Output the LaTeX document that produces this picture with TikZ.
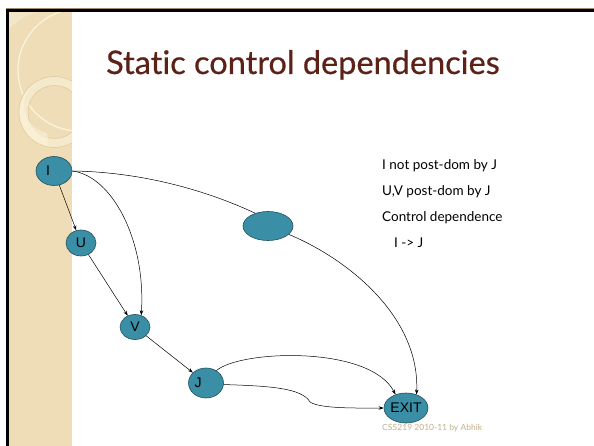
\documentclass[tikz,border=0pt]{standalone}
\usepackage{fontspec}
\setmainfont[Ligatures={NoCommon,NoRare}]{Lato}
\newfontfamily\titlefont[Ligatures={NoCommon,NoRare},FakeBold=0.5]{Lato}
\newfontfamily\labelfont{Liberation Sans}
\usetikzlibrary{arrows.meta,shapes.geometric}

\definecolor{titlebrown}{HTML}{5C2218}
\definecolor{stripbeige}{HTML}{EEDDB6}
\definecolor{striplight}{HTML}{F3E6C8}
\definecolor{stripcream}{HTML}{FBF3DC}
\definecolor{ringband}{HTML}{F5E9CB}
\definecolor{ringtan}{HTML}{E0CA9A}
\definecolor{frametan}{HTML}{A08C6A}
\definecolor{nodeteal}{HTML}{3A8EA5}
\definecolor{nodeedge}{HTML}{22505E}
\definecolor{footertan}{HTML}{C4B088}

\tikzset{
  cfgnode/.style={ellipse, draw=nodeedge, line width=0.6pt, fill=nodeteal,
    inner sep=0pt, font=\labelfont\fontsize{14}{14}\selectfont, text=black},
  flow/.style={draw=black, line width=0.5pt, -{Stealth[length=5pt,width=3.5pt]}},
  plainflow/.style={draw=black, line width=0.5pt},
  notetext/.style={anchor=base west, inner sep=0pt, font=\fontsize{13.5}{13.5}\selectfont, text=black},
}

\begin{document}
\begin{tikzpicture}[x=1pt,y=-1pt]
\useasboundingbox (0,0) rectangle (594,446);
\fill[white] (0,0) rectangle (594,446);

% decorated side strip
\fill[stripbeige] (9,12) rectangle (72,446);
\begin{scope}
  \clip (9,12) rectangle (72,446);
  \fill[striplight] (9,12) -- (58,12) arc[start angle=-80, end angle=-165, radius=53] -- cycle;
  \draw[stripcream, line width=1.3pt] (79,70) circle (61);
  \fill[ringband, even odd rule] (54.5,112) circle (35.5) (54.5,112) circle (26.5);
  \draw[ringtan, line width=0.6pt] (54.5,112) circle (35.5) (54.5,112) circle (26.5);
  \fill[stripcream, opacity=0.6] (54.5,112) ++(100:35) arc[start angle=100, end angle=250, radius=35]
        -- ++(0,0) arc[start angle=250, end angle=100, radius=28] -- cycle;
\end{scope}

% slide frame
\draw[frametan, line width=1pt] (6,8.5) -- (594,8.5);
\draw[black, line width=3pt] (6,10.5) -- (594,10.5);
\draw[black, line width=3pt] (7.5,9) -- (7.5,446);

% title
\node[anchor=base west, inner sep=0pt, text=titlebrown,
      font=\titlefont\fontsize{32.5}{32.5}\selectfont] (title) at (106,74) {Static control dependencies};

% flow graph nodes
\node[cfgnode, minimum width=36pt, minimum height=29pt] (I) at (54,171) {\hspace*{-12pt}I};
\node[cfgnode, minimum width=30pt, minimum height=26pt] (U) at (81,243) {U};
\node[cfgnode, minimum width=30pt, minimum height=25pt] (V) at (135,327) {V};
\node[cfgnode, minimum width=35pt, minimum height=30pt] (J) at (206,383) {\hspace*{-16pt}J};
\node[cfgnode, minimum width=50pt, minimum height=29pt] (B) at (268,226) {};
\node[cfgnode, minimum width=40pt, minimum height=30pt] (X) at (406,408) {EXIT};

% edges
\draw[flow] (I) -- (U);
\draw[flow] (U) -- (V);
\draw[flow] (V) -- (J);
\draw[flow] (I.east) .. controls (112,176) and (146,240) .. (V.62);
\draw[plainflow] (I.east) .. controls (145,172) and (210,192) .. (B.135);
\draw[flow] (B.-22) .. controls (350,260) and (420,318) .. (X.52);
\draw[flow] (J.50) .. controls (240,350) and (370,345) .. (X.128);
\coordinate (kink) at (310,402);
\draw[flow] (J.-5) .. controls (270,386) and (302,388) .. (kink)
                   .. controls (320,409) and (360,408) .. (X.west);

% notes
\node[notetext] (n1) at (382,170) {I not post-dom by J};
\node[notetext] (n2) at (382,196) {U,V post-dom by J};
\node[notetext] (n3) at (382,222) {Control dependence};
\node[notetext] (n4) at (394,248) {I -> J};

% footer
\node[anchor=base west, inner sep=0pt, text=footertan,
      font=\fontsize{8.5}{8.5}\selectfont] (foot) at (382,430) {CS5219 2010-11 by Abhik};
\end{tikzpicture}
\end{document}
